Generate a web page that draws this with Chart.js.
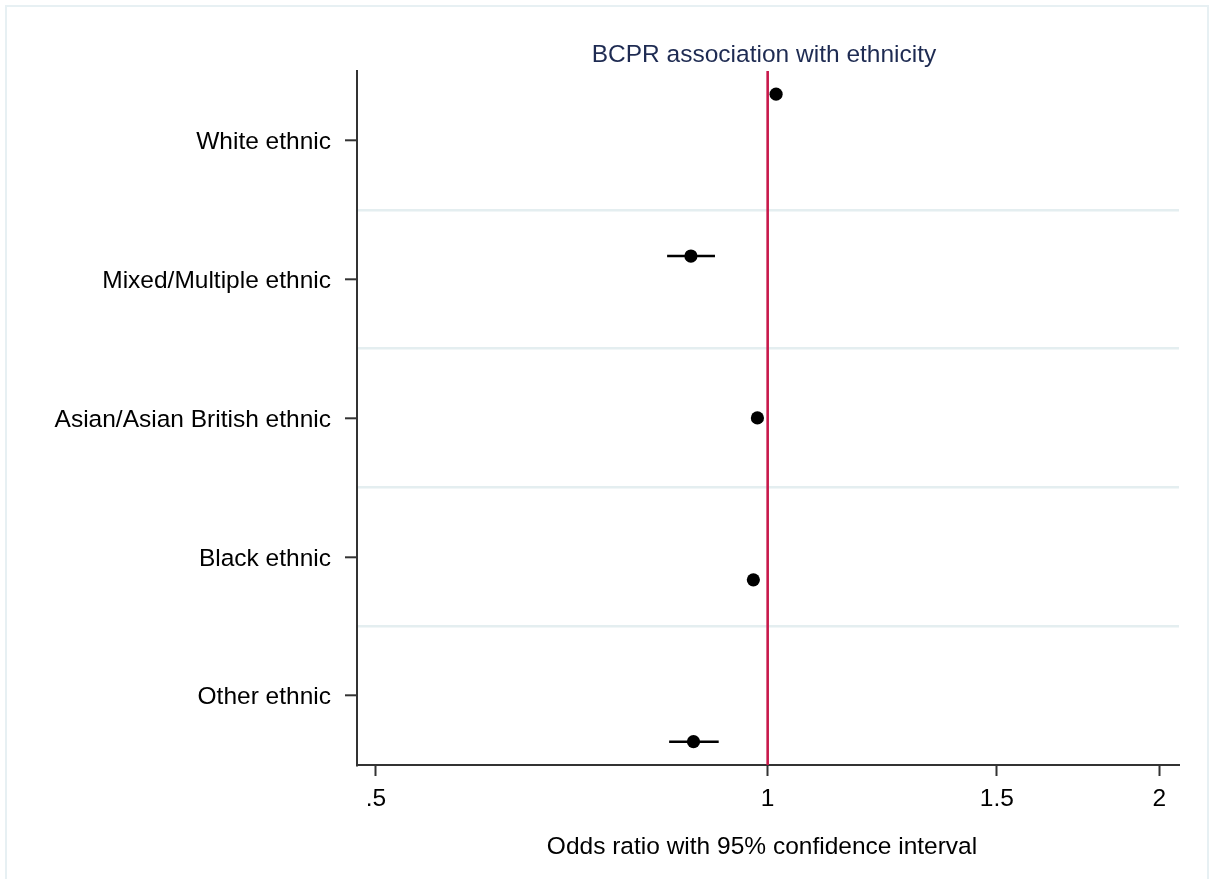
<!DOCTYPE html>
<html>
<head>
<meta charset="utf-8">
<script src="https://cdn.jsdelivr.net/npm/chart.js@4.4.1/dist/chart.umd.min.js"></script>
<style>
  html, body { margin: 0; padding: 0; background: #ffffff; }
  canvas { display: block; }
</style>
</head>
<body>
<canvas id="forest" width="1210" height="879"></canvas>
<script>
// Odds ratios with 95% confidence intervals, one row per ethnic group (top to bottom)
const categories = ['White ethnic', 'Mixed/Multiple ethnic', 'Asian/Asian British ethnic', 'Black ethnic', 'Other ethnic'];
const oddsRatio = [1.015, 0.873, 0.982, 0.975, 0.877];
const ciLower   = [1.006, 0.837, 0.973, 0.966, 0.840];
const ciUpper   = [1.025, 0.911, 0.992, 0.984, 0.917];
const xTickValues = [0.5, 1, 1.5, 2];
const xTickLabels = ['.5', '1', '1.5', '2'];
const chartTitle = 'BCPR association with ethnicity';
const xAxisTitle = 'Odds ratio with 95% confidence interval';
const nullValue = 1;

const FONT = '"Liberation Sans", Arial, Helvetica, sans-serif';
const n = categories.length;
const rowOf = i => n - i;              // first group plotted at the top
const yMin = 0.856, yMax = 5.143;      // vertical extent of the plot region
const band = (yMax - yMin) / n;        // each label sits centred in its band

// CI whiskers, one short line per group
const ciSets = categories.map((c, i) => ({
  type: 'line',
  label: c + ' CI',
  data: [{ x: ciLower[i], y: rowOf(i) }, { x: ciUpper[i], y: rowOf(i) }],
  borderColor: '#000000',
  borderWidth: 2.6,
  pointRadius: 0,
  order: 1
}));

const pageDecor = {
  id: 'pageDecor',
  beforeDraw(chart) {
    const ctx = chart.ctx;
    ctx.save();
    ctx.fillStyle = '#ffffff';
    ctx.fillRect(0, 0, chart.width, chart.height);
    ctx.strokeStyle = '#e7f0f3';
    ctx.lineWidth = 2;
    ctx.strokeRect(6, 6, 1202, 960);
    ctx.restore();
  },
  afterDraw(chart) {
    const ctx = chart.ctx;
    const a = chart.chartArea;
    ctx.save();
    ctx.font = '24.5px ' + FONT;
    ctx.textAlign = 'center';
    ctx.textBaseline = 'alphabetic';
    ctx.fillStyle = '#1e2b52';
    ctx.fillText(chartTitle, (a.left + a.right) / 2 - 4, 62);
    ctx.fillStyle = '#000000';
    ctx.fillText(xAxisTitle, (a.left + a.right) / 2 - 6, 854);
    ctx.restore();
  }
};

new Chart(document.getElementById('forest'), {
  data: {
    datasets: [
      {
        type: 'scatter',
        label: 'Odds ratio',
        data: categories.map((c, i) => ({ x: oddsRatio[i], y: rowOf(i) })),
        backgroundColor: '#000000',
        borderWidth: 0,
        pointRadius: 6.6,
        pointHoverRadius: 6.6,
        order: 0
      },
      ...ciSets,
      {
        type: 'line',
        label: 'No association',
        data: [{ x: nullValue, y: yMin }, { x: nullValue, y: yMax }],
        borderColor: '#c8194b',
        borderWidth: 2.6,
        pointRadius: 0,
        order: 2
      }
    ]
  },
  options: {
    responsive: false,
    animation: false,
    devicePixelRatio: 1,
    layout: { padding: { top: 71, right: 31, left: 0, bottom: 0 } },
    plugins: { legend: { display: false }, title: { display: false }, tooltip: { enabled: false } },
    scales: {
      x: {
        type: 'logarithmic',
        position: 'bottom',
        min: 0.4835,
        max: 2.0707,
        bounds: 'data',
        afterBuildTicks: s => { s.ticks = xTickValues.map(v => ({ value: v })); },
        afterFit: s => { s.height = 114; },
        ticks: {
          autoSkip: false,
          maxRotation: 0,
          padding: 9,
          color: '#000000',
          font: { family: FONT, size: 24.5 },
          callback: (v, i) => xTickLabels[i]
        },
        grid: { drawOnChartArea: false, drawTicks: true, tickLength: 11, tickColor: '#333333', tickWidth: 2 },
        border: { display: true, color: '#333333', width: 2 }
      },
      y: {
        type: 'linear',
        position: 'left',
        min: yMin,
        max: yMax,
        bounds: 'data',
        afterBuildTicks: s => {
          const t = [];
          for (let k = 1; k < n; k++) t.push({ value: yMin + k * band, kind: 'edge' });
          categories.forEach((c, i) => t.push({ value: yMin + (rowOf(i) - 0.5) * band, kind: 'row', name: c }));
          t.sort((p, q) => p.value - q.value);
          s.ticks = t;
        },
        afterFit: s => { s.width = 357; },
        ticks: {
          autoSkip: false,
          padding: 14,
          labelOffset: 2,
          color: '#000000',
          font: { family: FONT, size: 24.5 },
          callback: function (v, i, ticks) { return ticks[i].kind === 'row' ? ticks[i].name : ''; }
        },
        grid: {
          drawOnChartArea: true,
          drawTicks: true,
          tickLength: 12,
          lineWidth: 2.6,
          tickWidth: 2,
          color: ctx => (ctx.tick && ctx.tick.kind === 'edge') ? '#e4eef0' : 'rgba(0,0,0,0)',
          tickColor: ctx => (ctx.tick && ctx.tick.kind === 'row') ? '#333333' : 'rgba(0,0,0,0)'
        },
        border: { display: true, color: '#333333', width: 2 }
      }
    }
  },
  plugins: [pageDecor]
});
</script>
</body>
</html>
